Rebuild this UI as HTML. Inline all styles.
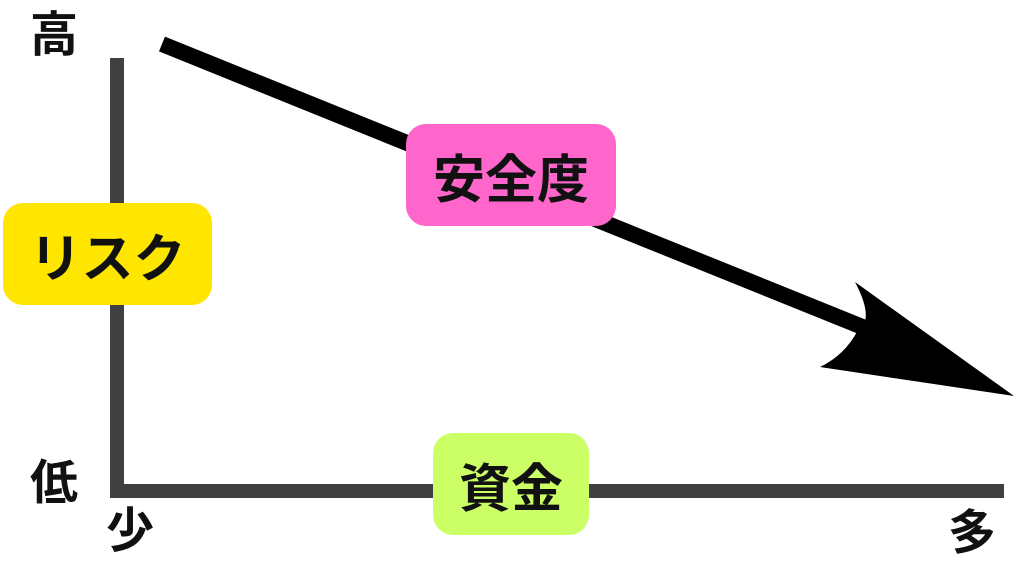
<!DOCTYPE html>
<html><head><meta charset="utf-8"><style>
body{margin:0;width:1024px;height:576px;background:#fff;overflow:hidden;position:relative;font-family:"Liberation Sans","Noto Sans CJK JP",sans-serif;font-weight:bold}
.t{position:absolute;font-size:48px;line-height:1;color:#111}
.b{position:absolute;border-radius:20px;display:flex;align-items:center;justify-content:center;font-size:52px;color:#111}
</style></head><body>
<svg width="1024" height="576" style="position:absolute;left:0;top:0">
<rect x="110" y="58" width="14" height="440" fill="#404040"/>
<rect x="110" y="484" width="894" height="14" fill="#404040"/>
<line x1="162" y1="44" x2="870" y2="330" stroke="#000" stroke-width="16"/>
<path d="M855,282 Q875,320 858,330 Q845,355 820,367 L1014,396 Z" fill="#000"/>
</svg>
<div class="t" style="left:30px;top:12px">高</div>
<div class="t" style="left:30px;top:460px">低</div>
<div class="t" style="left:106px;top:508px">少</div>
<div class="t" style="left:948px;top:510px">多</div>
<div class="b" style="left:3px;top:203px;width:209px;height:102px;background:#ffe600">リスク</div>
<div class="b" style="left:406px;top:124px;width:210px;height:102px;background:#ff66cc">安全度</div>
<div class="b" style="left:433px;top:433px;width:156px;height:102px;background:#ccff66">資金</div>
</body></html>
